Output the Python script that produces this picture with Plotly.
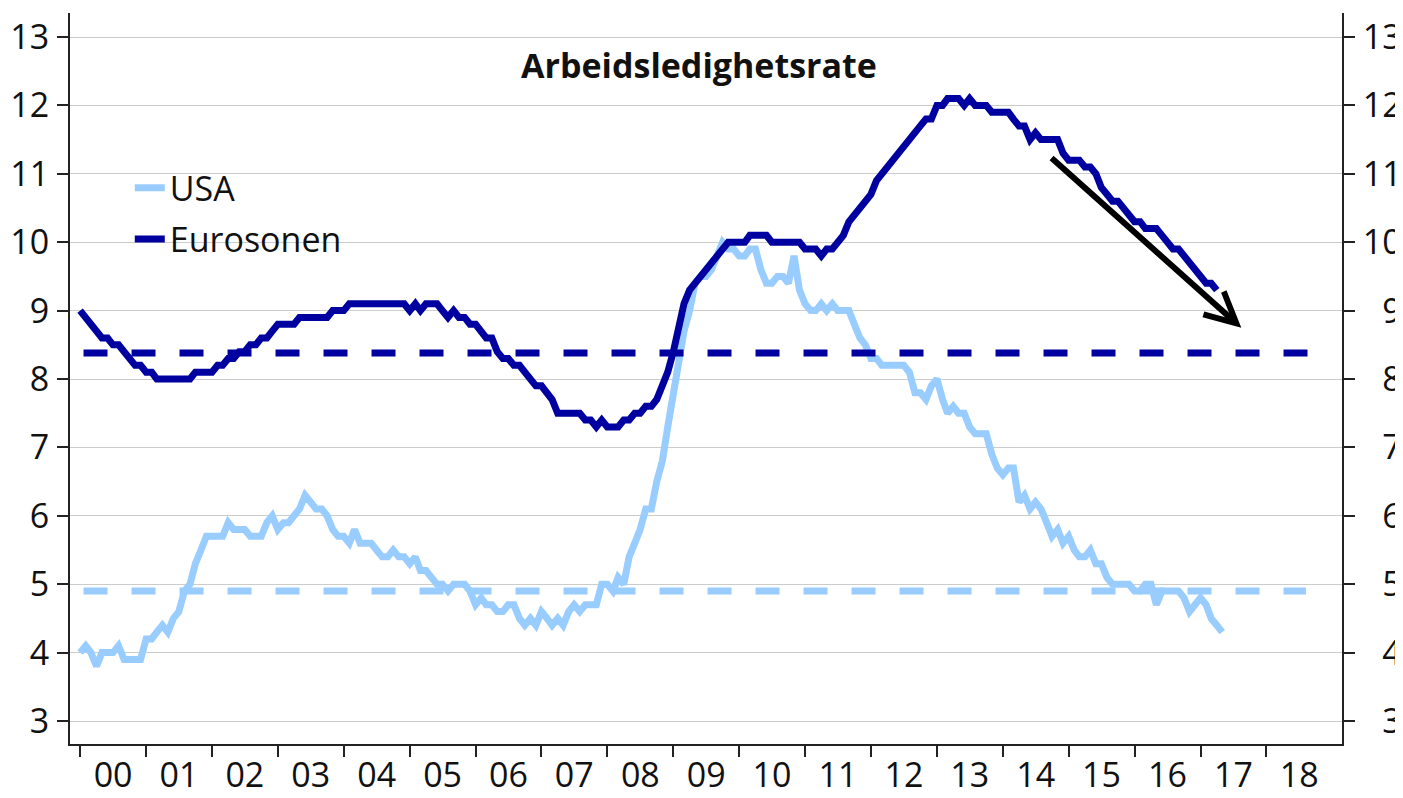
import pandas as pd
import plotly.graph_objects as go

# ---------------- data (monthly) ----------------
usa = [
    4.0, 4.1, 4.0, 3.8, 4.0, 4.0, 4.0, 4.1, 3.9, 3.9, 3.9, 3.9,   # 2000
    4.2, 4.2, 4.3, 4.4, 4.3, 4.5, 4.6, 4.9, 5.0, 5.3, 5.5, 5.7,   # 2001
    5.7, 5.7, 5.7, 5.9, 5.8, 5.8, 5.8, 5.7, 5.7, 5.7, 5.9, 6.0,   # 2002
    5.8, 5.9, 5.9, 6.0, 6.1, 6.3, 6.2, 6.1, 6.1, 6.0, 5.8, 5.7,   # 2003
    5.7, 5.6, 5.8, 5.6, 5.6, 5.6, 5.5, 5.4, 5.4, 5.5, 5.4, 5.4,   # 2004
    5.3, 5.4, 5.2, 5.2, 5.1, 5.0, 5.0, 4.9, 5.0, 5.0, 5.0, 4.9,   # 2005
    4.7, 4.8, 4.7, 4.7, 4.6, 4.6, 4.7, 4.7, 4.5, 4.4, 4.5, 4.4,   # 2006
    4.6, 4.5, 4.4, 4.5, 4.4, 4.6, 4.7, 4.6, 4.7, 4.7, 4.7, 5.0,   # 2007
    5.0, 4.9, 5.1, 5.0, 5.4, 5.6, 5.8, 6.1, 6.1, 6.5, 6.8, 7.3,   # 2008
    7.8, 8.3, 8.7, 9.0, 9.4, 9.5, 9.5, 9.6, 9.8, 10.0, 9.9, 9.9,  # 2009
    9.8, 9.8, 9.9, 9.9, 9.6, 9.4, 9.4, 9.5, 9.5, 9.4, 9.8, 9.3,   # 2010
    9.1, 9.0, 9.0, 9.1, 9.0, 9.1, 9.0, 9.0, 9.0, 8.8, 8.6, 8.5,   # 2011
    8.3, 8.3, 8.2, 8.2, 8.2, 8.2, 8.2, 8.1, 7.8, 7.8, 7.7, 7.9,   # 2012
    8.0, 7.7, 7.5, 7.6, 7.5, 7.5, 7.3, 7.2, 7.2, 7.2, 6.9, 6.7,   # 2013
    6.6, 6.7, 6.7, 6.2, 6.3, 6.1, 6.2, 6.1, 5.9, 5.7, 5.8, 5.6,   # 2014
    5.7, 5.5, 5.4, 5.4, 5.5, 5.3, 5.3, 5.1, 5.0, 5.0, 5.0, 5.0,   # 2015
    4.9, 4.9, 5.0, 5.0, 4.7, 4.9, 4.9, 4.9, 4.9, 4.8, 4.6, 4.7,   # 2016
    4.8, 4.7, 4.5, 4.4, 4.3,                                      # 2017
]

eurosonen = [
    9.0, 8.9, 8.8, 8.7, 8.6, 8.6, 8.5, 8.5, 8.4, 8.3, 8.2, 8.2,   # 2000
    8.1, 8.1, 8.0, 8.0, 8.0, 8.0, 8.0, 8.0, 8.0, 8.1, 8.1, 8.1,   # 2001
    8.1, 8.2, 8.2, 8.3, 8.3, 8.4, 8.4, 8.5, 8.5, 8.6, 8.6, 8.7,   # 2002
    8.8, 8.8, 8.8, 8.8, 8.9, 8.9, 8.9, 8.9, 8.9, 8.9, 9.0, 9.0,   # 2003
    9.0, 9.1, 9.1, 9.1, 9.1, 9.1, 9.1, 9.1, 9.1, 9.1, 9.1, 9.1,   # 2004
    9.0, 9.1, 9.0, 9.1, 9.1, 9.1, 9.0, 8.9, 9.0, 8.9, 8.9, 8.8,   # 2005
    8.8, 8.7, 8.6, 8.6, 8.4, 8.3, 8.3, 8.2, 8.2, 8.1, 8.0, 7.9,   # 2006
    7.9, 7.8, 7.7, 7.5, 7.5, 7.5, 7.5, 7.5, 7.4, 7.4, 7.3, 7.4,   # 2007
    7.3, 7.3, 7.3, 7.4, 7.4, 7.5, 7.5, 7.6, 7.6, 7.7, 7.9, 8.1,   # 2008
    8.4, 8.8, 9.1, 9.3, 9.4, 9.5, 9.6, 9.7, 9.8, 9.9, 10.0, 10.0, # 2009
    10.0, 10.0, 10.1, 10.1, 10.1, 10.1, 10.0, 10.0, 10.0, 10.0, 10.0, 10.0,  # 2010
    9.9, 9.9, 9.9, 9.8, 9.9, 9.9, 10.0, 10.1, 10.3, 10.4, 10.5, 10.6,        # 2011
    10.7, 10.9, 11.0, 11.1, 11.2, 11.3, 11.4, 11.5, 11.6, 11.7, 11.8, 11.8,  # 2012
    12.0, 12.0, 12.1, 12.1, 12.1, 12.0, 12.1, 12.0, 12.0, 12.0, 11.9, 11.9,  # 2013
    11.9, 11.9, 11.8, 11.7, 11.7, 11.5, 11.6, 11.5, 11.5, 11.5, 11.5, 11.3,  # 2014
    11.2, 11.2, 11.2, 11.1, 11.1, 11.0, 10.8, 10.7, 10.6, 10.6, 10.5, 10.4,  # 2015
    10.3, 10.3, 10.2, 10.2, 10.2, 10.1, 10.0, 9.9, 9.9, 9.8, 9.7, 9.6,       # 2016
    9.5, 9.4, 9.4, 9.3,                                                      # 2017
]

usa_level = 4.9        # dashed reference level, USA
euro_level = 8.38      # dashed reference level, Eurosonen
level_start = "2000-01-20"
usa_level_end = "2018-08-08"
euro_level_end = "2018-12-12"

years = list(range(2000, 2019))
year_labels = [f"{y % 100:02d}" for y in years]
y_ticks = list(range(3, 14))
y_labels_left = [str(v) for v in y_ticks]
# right-hand labels are right-aligned in the original (figure-space padding)
y_labels_right = [("\u2007" + str(v)) if v < 10 else str(v) for v in y_ticks]

title_text = "Arbeidsledighetsrate"

# arrow (tail -> head) in data coordinates
arrow_tail = ("2014-09-20", 11.25)
arrow_head = ("2017-08-15", 8.75)

USA_COLOR = "#99CCFF"
EURO_COLOR = "#0000A0"
FONT = "Open Sans"
FS = 34

# the page body adds an 8px margin at top/left; the figure fills the rest
W, H = 1395, 790

# ---------------- figure ----------------
usa_dates = pd.date_range("2000-01-01", periods=len(usa), freq="MS")
euro_dates = pd.date_range("2000-01-01", periods=len(eurosonen), freq="MS")

fig = go.Figure()

fig.add_trace(go.Scatter(
    x=[level_start, usa_level_end], y=[usa_level, usa_level], mode="lines",
    line=dict(color=USA_COLOR, width=7, dash="24px,24px"),
    showlegend=False, hoverinfo="skip"))
fig.add_trace(go.Scatter(
    x=[level_start, euro_level_end], y=[euro_level, euro_level], mode="lines",
    line=dict(color=EURO_COLOR, width=7, dash="24px,24px"),
    showlegend=False, hoverinfo="skip", yaxis="y2"))

fig.add_trace(go.Scatter(
    x=usa_dates, y=usa, mode="lines", name="USA",
    line=dict(color=USA_COLOR, width=7), legendgroup="a"))
fig.add_trace(go.Scatter(
    x=euro_dates, y=eurosonen, mode="lines", name="Eurosonen",
    line=dict(color=EURO_COLOR, width=7), legendgroup="b"))

y_range = [2.664, 13.351]
axis_col = "#222222"

fig.update_layout(
    width=W, height=H,
    margin=dict(l=62, r=61, t=5, b=54, autoexpand=False),
    paper_bgcolor="white", plot_bgcolor="white",
    font=dict(family=FONT, size=FS, color="#111111"),
    title=dict(text=f"<b>{title_text}</b>", x=0.4945, xref="paper",
               xanchor="center", y=1 - 58 / H, yanchor="middle",
               yref="container",
               font=dict(family=FONT, size=34, color="#111111")),
    showlegend=True,
    legend=dict(x=0.047, xanchor="left", y=0.80, yanchor="top",
                bgcolor="rgba(0,0,0,0)", font=dict(size=FS, family=FONT),
                tracegroupgap=4, itemwidth=30),
    xaxis=dict(
        type="date", automargin=False,
        range=["1999-11-06", "2019-02-24"],
        tickmode="array",
        tickvals=[f"{y}-07-02" for y in years],
        ticktext=year_labels,
        ticks="outside", ticklen=0, tickcolor="rgba(0,0,0,0)",
        showgrid=False, zeroline=False,
        showline=True, linecolor=axis_col, linewidth=2,
        minor=dict(tickmode="array", tickvals=[f"{y}-01-01" for y in years],
                   ticks="outside", ticklen=11, tickwidth=2,
                   tickcolor=axis_col, showgrid=False),
        tickfont=dict(size=FS),
    ),
    yaxis=dict(
        range=y_range, automargin=False,
        tickmode="array", tickvals=y_ticks, ticktext=y_labels_left,
        ticks="outside", ticklen=11, tickwidth=2, tickcolor=axis_col,
        showgrid=True, gridcolor="#cccccc", gridwidth=1,
        zeroline=False, showline=True, linecolor=axis_col, linewidth=2,
        ticklabelstandoff=1, tickfont=dict(size=FS),
    ),
    yaxis2=dict(
        range=y_range, automargin=False,
        tickmode="array", tickvals=y_ticks, ticktext=y_labels_right,
        overlaying="y", side="right",
        ticks="outside", ticklen=11, tickwidth=2, tickcolor=axis_col,
        showgrid=False, zeroline=False, showline=True,
        linecolor=axis_col, linewidth=2,
        ticklabelstandoff=1, tickfont=dict(size=FS),
    ),
    annotations=[dict(
        x=arrow_head[0], y=arrow_head[1], xref="x", yref="y",
        ax=arrow_tail[0], ay=arrow_tail[1], axref="x", ayref="y",
        text="", showarrow=True, arrowhead=5, arrowwidth=6,
        arrowsize=1.0, arrowcolor="#000000", standoff=0,
    )],
)

fig.write_html("out.html")
